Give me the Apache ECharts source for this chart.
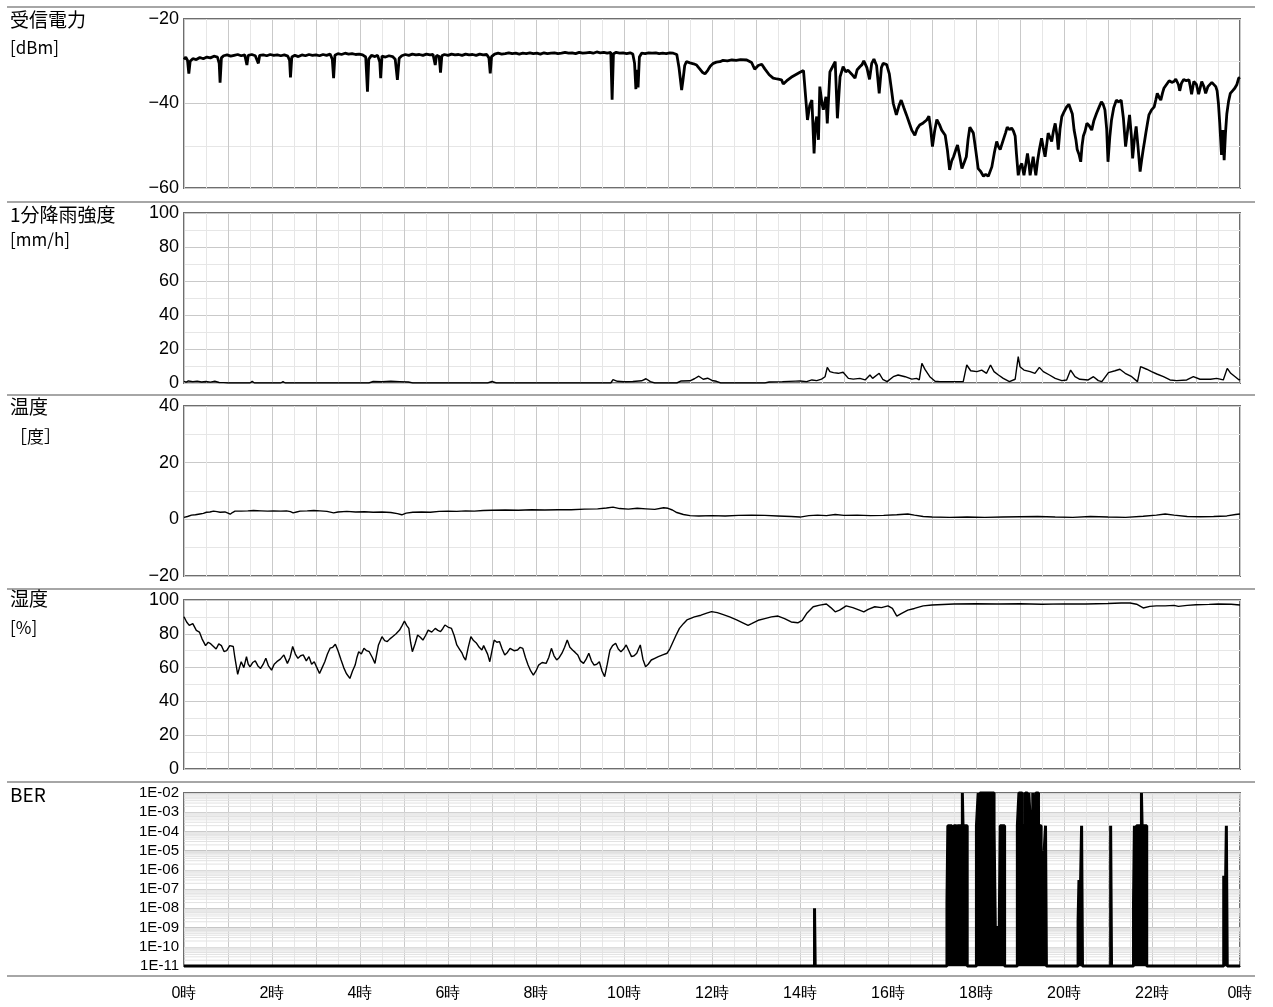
<!DOCTYPE html>
<html>
<head>
<meta charset="utf-8">
<script src="https://cdn.jsdelivr.net/npm/echarts@6/dist/echarts.min.js"></script>
<style>
  html, body { margin: 0; padding: 0; background: #fff; }
  #chart { width: 1273px; height: 1007px; }
</style>
</head>
<body>
<div id="chart"></div>
<script>
// ---- time axis (hours of the day) ----
const HOUR_MIN = 0;
const HOUR_MAX = 24;

// ---- 受信電力 [dBm] : [hour, value] ----
const powerData = [
  [0.00,-29.6],[0.04,-29.0],[0.08,-29.8],[0.11,-32.9],[0.14,-30.0],[0.20,-29.4],[0.28,-29.6],[0.36,-29.1],
  [0.44,-29.4],[0.52,-29.0],[0.60,-29.2],[0.68,-28.8],[0.76,-29.0],[0.80,-30.5],[0.82,-35.1],[0.85,-29.2],
  [0.90,-28.7],[0.98,-28.5],[1.06,-28.8],[1.14,-28.6],[1.22,-28.4],[1.30,-28.7],[1.38,-28.5],[1.43,-30.9],
  [1.46,-28.6],[1.54,-28.4],[1.62,-28.7],[1.69,-30.5],[1.72,-28.6],[1.80,-28.5],[1.88,-28.7],[1.96,-28.4],
  [2.04,-28.6],[2.12,-28.5],[2.20,-28.7],[2.28,-28.5],[2.36,-28.8],[2.40,-29.8],[2.42,-33.8],[2.45,-29.0],
  [2.52,-28.6],[2.60,-28.9],[2.68,-28.5],[2.76,-28.7],[2.84,-28.4],[2.92,-28.6],[3.00,-28.5],[3.08,-28.7],
  [3.16,-28.4],[3.24,-28.6],[3.32,-28.3],[3.37,-29.5],[3.40,-34.0],[3.43,-28.6],[3.50,-28.2],[3.58,-28.4],
  [3.66,-28.1],[3.74,-28.3],[3.82,-28.2],[3.90,-28.4],[3.98,-28.3],[4.06,-28.5],[4.13,-29.0],[4.17,-37.2],
  [4.20,-29.5],[4.26,-28.6],[4.34,-28.9],[4.40,-28.6],[4.45,-30.2],[4.47,-34.0],[4.50,-28.8],[4.58,-29.0],
  [4.66,-28.7],[4.74,-28.9],[4.80,-29.5],[4.85,-34.4],[4.89,-29.3],[4.95,-28.7],[5.03,-28.4],[5.11,-28.6],
  [5.19,-28.3],[5.27,-28.5],[5.35,-28.4],[5.43,-28.6],[5.51,-28.3],[5.59,-28.5],[5.66,-28.4],[5.71,-30.9],
  [5.74,-28.6],[5.80,-28.9],[5.83,-32.7],[5.86,-28.7],[5.92,-28.4],[6.00,-28.6],[6.08,-28.3],[6.16,-28.5],
  [6.24,-28.4],[6.32,-28.6],[6.40,-28.3],[6.48,-28.5],[6.56,-28.4],[6.64,-28.6],[6.72,-28.3],[6.80,-28.5],
  [6.88,-28.4],[6.93,-29.2],[6.96,-32.9],[6.99,-28.9],[7.06,-28.3],[7.14,-28.1],[7.22,-28.3],[7.30,-28.2],
  [7.38,-28.0],[7.46,-28.2],[7.54,-28.1],[7.62,-28.3],[7.70,-28.1],[7.78,-28.2],[7.86,-28.0],[7.94,-28.2],
  [8.02,-28.1],[8.10,-28.3],[8.18,-28.0],[8.26,-28.2],[8.34,-28.1],[8.42,-28.0],[8.50,-28.2],[8.58,-28.1],
  [8.66,-27.9],[8.74,-28.1],[8.82,-28.0],[8.90,-28.2],[8.98,-27.9],[9.06,-28.1],[9.14,-28.0],[9.22,-27.9],
  [9.30,-28.1],[9.38,-27.8],[9.46,-28.0],[9.54,-27.9],[9.62,-28.1],[9.70,-27.9],[9.73,-39.1],[9.76,-28.2],
  [9.82,-27.9],[9.90,-28.1],[9.98,-28.0],[10.06,-28.2],[10.14,-28.0],[10.20,-28.3],[10.24,-30.5],[10.27,-36.6],
  [10.29,-32.0],[10.32,-36.2],[10.35,-29.0],[10.40,-28.1],[10.48,-28.2],[10.56,-28.0],[10.64,-28.1],[10.72,-28.0],
  [10.80,-28.2],[10.88,-28.1],[10.96,-28.2],[11.04,-28.0],[11.12,-28.1],[11.20,-28.4],[11.25,-31.5],[11.31,-36.8],
  [11.34,-34.5],[11.38,-31.0],[11.42,-30.1],[11.50,-30.4],[11.58,-30.6],[11.65,-30.9],[11.72,-31.8],[11.78,-32.6],
  [11.84,-33.0],[11.90,-32.2],[11.96,-31.2],[12.03,-30.5],[12.10,-30.2],[12.18,-30.1],[12.25,-29.8],[12.35,-29.9],
  [12.45,-29.7],[12.55,-29.8],[12.65,-29.6],[12.79,-29.7],[12.90,-30.3],[12.97,-31.9],[13.05,-31.0],[13.13,-30.7],
  [13.20,-31.8],[13.30,-33.2],[13.39,-34.0],[13.48,-34.2],[13.58,-34.4],[13.62,-35.4],[13.70,-34.6],[13.80,-33.8],
  [13.90,-33.2],[14.00,-32.6],[14.08,-32.2],[14.17,-43.9],[14.22,-40.5],[14.27,-39.2],[14.32,-51.8],[14.35,-45.0],
  [14.38,-43.1],[14.42,-48.6],[14.45,-36.0],[14.50,-40.0],[14.53,-41.5],[14.59,-38.4],[14.62,-44.7],[14.68,-32.5],
  [14.74,-31.3],[14.80,-30.1],[14.85,-43.5],[14.91,-33.7],[14.98,-31.3],[15.04,-32.5],[15.09,-32.1],[15.17,-33.0],
  [15.25,-34.0],[15.30,-32.0],[15.36,-31.3],[15.41,-30.8],[15.45,-29.9],[15.52,-31.5],[15.58,-34.3],[15.63,-30.5],
  [15.68,-29.5],[15.74,-31.0],[15.80,-37.6],[15.85,-31.5],[15.89,-30.5],[15.97,-30.8],[16.03,-33.0],[16.08,-36.8],
  [16.12,-40.0],[16.19,-42.7],[16.25,-40.5],[16.30,-39.2],[16.36,-41.0],[16.42,-42.7],[16.48,-44.5],[16.54,-46.3],
  [16.61,-47.5],[16.66,-46.0],[16.72,-45.1],[16.80,-44.6],[16.88,-43.9],[16.93,-43.0],[16.97,-46.0],[17.01,-50.2],
  [17.06,-46.5],[17.11,-43.8],[17.17,-45.0],[17.22,-46.3],[17.30,-47.5],[17.35,-51.0],[17.40,-55.7],[17.45,-53.5],
  [17.49,-52.6],[17.54,-51.0],[17.58,-49.8],[17.63,-52.5],[17.68,-55.4],[17.73,-54.0],[17.78,-52.6],[17.82,-48.5],
  [17.86,-45.6],[17.90,-46.0],[17.94,-47.0],[18.00,-51.5],[18.05,-55.4],[18.10,-56.0],[18.17,-57.2],[18.22,-56.8],
  [18.28,-57.2],[18.36,-55.0],[18.42,-51.5],[18.47,-49.0],[18.51,-50.2],[18.55,-50.9],[18.62,-48.6],[18.67,-47.0],
  [18.71,-45.6],[18.76,-46.2],[18.81,-45.8],[18.85,-46.5],[18.89,-47.7],[18.92,-52.0],[18.96,-57.0],[19.00,-55.0],
  [19.04,-54.2],[19.09,-57.0],[19.13,-54.5],[19.17,-51.8],[19.20,-54.0],[19.23,-57.0],[19.27,-54.5],[19.30,-52.6],
  [19.33,-55.0],[19.36,-57.0],[19.40,-53.5],[19.44,-50.9],[19.49,-48.2],[19.53,-50.5],[19.57,-52.6],[19.61,-49.5],
  [19.64,-47.0],[19.68,-48.0],[19.72,-49.0],[19.76,-46.5],[19.80,-44.7],[19.84,-47.5],[19.87,-50.9],[19.91,-46.0],
  [19.95,-43.1],[20.00,-42.0],[20.06,-40.8],[20.11,-40.2],[20.15,-40.4],[20.19,-42.5],[20.23,-46.3],[20.27,-48.5],
  [20.30,-50.9],[20.34,-52.0],[20.38,-53.8],[20.41,-50.0],[20.44,-47.7],[20.48,-46.5],[20.52,-44.7],[20.57,-45.2],
  [20.63,-46.3],[20.68,-44.0],[20.74,-42.3],[20.80,-40.8],[20.85,-39.6],[20.89,-40.2],[20.93,-41.5],[20.97,-46.0],
  [21.00,-53.8],[21.04,-48.0],[21.08,-43.9],[21.13,-41.0],[21.19,-39.2],[21.24,-39.6],[21.30,-39.2],[21.35,-43.5],
  [21.40,-50.2],[21.45,-46.0],[21.49,-42.7],[21.53,-47.5],[21.56,-53.0],[21.60,-48.5],[21.64,-45.4],[21.68,-50.0],
  [21.73,-56.1],[21.77,-53.0],[21.80,-50.9],[21.83,-49.0],[21.86,-47.0],[21.90,-44.5],[21.93,-42.7],[21.99,-41.5],
  [22.05,-40.8],[22.09,-39.0],[22.12,-37.6],[22.16,-38.5],[22.20,-39.2],[22.24,-37.5],[22.27,-36.4],[22.33,-35.5],
  [22.39,-34.6],[22.45,-35.0],[22.50,-34.8],[22.54,-34.2],[22.57,-34.3],[22.60,-35.5],[22.63,-37.0],[22.67,-35.2],
  [22.72,-34.3],[22.78,-34.6],[22.84,-34.4],[22.87,-36.0],[22.90,-37.8],[22.95,-34.8],[23.01,-35.5],[23.06,-37.8],
  [23.13,-34.8],[23.18,-36.0],[23.22,-37.6],[23.27,-36.0],[23.31,-35.6],[23.36,-35.0],[23.40,-35.2],[23.45,-36.0],
  [23.48,-37.0],[23.51,-40.0],[23.54,-44.7],[23.58,-52.2],[23.61,-46.3],[23.64,-53.4],[23.67,-47.0],[23.70,-42.5],
  [23.74,-39.5],[23.78,-37.6],[23.83,-37.0],[23.88,-36.4],[23.93,-35.5],[23.97,-34.0],[24.00,-33.8]
];

// ---- 1分降雨強度 [mm/h] ----
const rainData = [
  [0.00,1.0],[0.05,0.5],[0.10,1.2],[0.20,0.8],[0.30,1.1],[0.40,0.6],[0.50,0.9],[0.60,0.5],[0.70,1.0],
  [0.80,0.3],[0.90,0.2],[1.00,0],[1.50,0],[1.55,1.0],[1.60,0],[2.20,0],[2.25,0.8],[2.30,0],[4.20,0],
  [4.30,0.9],[4.50,0.7],[4.70,1.0],[4.90,0.8],[5.10,0.6],[5.20,0],[6.90,0],[7.00,0.9],[7.10,0],[9.70,0],
  [9.75,2.0],[9.85,1.0],[10.00,0.7],[10.20,0.9],[10.40,1.3],[10.50,2.5],[10.60,0.8],[10.70,0],[11.20,0],
  [11.30,1.2],[11.50,1.3],[11.60,2.5],[11.70,4.0],[11.80,2.2],[11.90,2.8],[12.00,1.5],[12.10,1.0],[12.20,0],
  [13.20,0],[13.30,0.6],[13.60,0.8],[13.90,1.1],[14.00,1.2],[14.15,0.8],[14.27,1.8],[14.38,1.4],[14.49,2.3],
  [14.57,3.7],[14.62,9.2],[14.68,6.7],[14.76,6.1],[14.87,5.7],[14.98,6.3],[15.10,2.7],[15.21,2.3],[15.36,2.7],
  [15.48,1.8],[15.59,4.7],[15.65,2.7],[15.80,5.7],[15.88,2.2],[15.98,0.8],[16.12,3.7],[16.23,4.7],[16.39,3.7],
  [16.54,2.3],[16.65,2.7],[16.71,1.8],[16.77,11.6],[16.84,8.0],[16.95,3.7],[17.07,1.0],[17.18,0.8],[17.71,0.8],
  [17.79,10.6],[17.88,7.2],[18.02,6.7],[18.13,7.6],[18.24,5.7],[18.33,10.6],[18.41,6.7],[18.51,4.7],[18.62,2.7],
  [18.76,0.8],[18.89,2.2],[18.96,15.5],[19.00,9.6],[19.09,7.6],[19.23,6.7],[19.34,5.7],[19.44,9.2],[19.53,6.7],
  [19.67,4.7],[19.80,2.7],[19.95,1.4],[20.06,1.8],[20.15,7.6],[20.25,3.7],[20.36,2.2],[20.55,1.8],[20.67,3.7],
  [20.78,1.4],[20.86,0.8],[21.01,6.1],[21.16,7.2],[21.27,8.1],[21.39,5.7],[21.54,3.7],[21.67,0.8],[21.74,9.6],
  [21.88,8.1],[21.99,6.7],[22.11,5.3],[22.26,3.7],[22.41,1.8],[22.56,1.4],[22.79,1.8],[22.94,3.7],[23.09,2.2],
  [23.33,2.2],[23.47,2.7],[23.62,1.8],[23.71,8.6],[23.79,5.7],[23.89,3.7],[23.98,1.8],[24.00,2.2]
];

// ---- 温度 [度] ----
const tempData = [
  [0.00,0.7],[0.08,1.0],[0.17,1.5],[0.26,1.6],[0.36,1.9],[0.44,2.1],[0.51,2.5],[0.59,2.6],[0.67,2.9],
  [0.75,2.7],[0.82,2.5],[0.93,2.6],[1.00,2.2],[1.05,1.8],[1.10,2.4],[1.16,2.9],[1.30,2.9],[1.45,3.0],
  [1.58,3.1],[1.75,3.0],[1.90,2.9],[2.03,3.0],[2.20,2.9],[2.33,3.0],[2.42,2.7],[2.48,2.3],[2.56,2.6],
  [2.64,2.9],[2.80,3.0],[2.95,3.1],[3.09,3.0],[3.25,2.8],[3.40,2.3],[3.50,2.6],[3.70,2.8],[3.90,2.6],
  [4.10,2.7],[4.30,2.5],[4.50,2.6],[4.70,2.4],[4.85,2.0],[4.95,1.6],[5.05,2.2],[5.20,2.5],[5.40,2.6],
  [5.60,2.5],[5.80,2.8],[6.00,2.9],[6.20,2.8],[6.40,3.0],[6.60,2.9],[6.80,3.1],[7.00,3.2],[7.30,3.3],
  [7.60,3.2],[7.90,3.4],[8.20,3.3],[8.50,3.4],[8.80,3.4],[9.10,3.6],[9.40,3.7],[9.60,4.0],[9.75,4.3],
  [9.90,3.8],[10.10,3.6],[10.30,3.9],[10.50,3.7],[10.70,3.5],[10.90,4.1],[11.00,3.9],[11.10,3.3],[11.20,2.4],
  [11.35,1.7],[11.50,1.3],[11.70,1.2],[12.00,1.3],[12.30,1.2],[12.60,1.4],[12.90,1.5],[13.20,1.4],[13.50,1.2],
  [13.80,1.0],[14.00,0.8],[14.20,1.3],[14.40,1.5],[14.60,1.3],[14.80,1.7],[15.00,1.4],[15.30,1.5],[15.60,1.3],
  [15.90,1.4],[16.20,1.6],[16.45,1.9],[16.60,1.5],[16.80,1.0],[17.00,0.8],[17.40,0.7],[17.80,0.8],[18.20,0.7],
  [18.60,0.8],[19.00,0.9],[19.40,1.0],[19.80,0.8],[20.20,0.7],[20.60,1.0],[21.00,0.8],[21.40,0.7],[21.80,1.1],
  [22.10,1.5],[22.30,1.9],[22.50,1.5],[22.80,1.0],[23.10,0.9],[23.40,1.0],[23.70,1.2],[23.90,1.7],[24.00,1.9]
];

// ---- 湿度 [%] ----
const humidData = [
  [0.00,90.1],[0.06,87],[0.12,85],[0.20,86],[0.28,82],[0.35,81],[0.41,77],[0.49,73],[0.55,75],[0.61,74],
  [0.67,72.5],[0.73,71],[0.79,74],[0.85,73],[0.91,69.5],[0.97,70],[1.04,73],[1.12,72.5],[1.15,67],[1.18,68],
  [1.22,56],[1.26,60],[1.30,63.5],[1.36,60],[1.42,66.5],[1.46,62],[1.50,60.5],[1.56,63],[1.62,64],[1.68,61],
  [1.74,59.5],[1.80,62],[1.86,65.5],[1.92,61],[1.99,58.5],[2.05,62],[2.11,63.5],[2.19,65],[2.27,67.5],[2.35,62.5],
  [2.41,66],[2.47,72.5],[2.53,68],[2.59,65.5],[2.65,67],[2.71,67.5],[2.78,64],[2.84,66.5],[2.90,62],[2.96,63.5],
  [3.02,60],[3.08,56.5],[3.14,60],[3.20,63.5],[3.26,68],[3.32,71.5],[3.38,72],[3.44,73.8],[3.50,70],[3.57,64.5],
  [3.63,60],[3.69,56.5],[3.77,53.6],[3.83,58],[3.89,61.5],[3.93,66],[3.97,69.4],[4.03,68],[4.09,71.4],[4.15,70],
  [4.21,69.4],[4.28,66],[4.34,62.5],[4.42,73.4],[4.50,78.3],[4.56,76],[4.62,75.4],[4.68,77],[4.74,78.3],[4.82,80],
  [4.90,82.2],[4.96,85],[5.01,87.6],[5.06,85],[5.11,83.2],[5.15,75],[5.19,69.4],[5.25,74],[5.31,79.3],[5.37,78],
  [5.43,76.3],[5.49,79],[5.55,82.2],[5.63,81],[5.71,83.2],[5.77,82],[5.83,81.3],[5.88,83],[5.93,85.2],[6.00,84],
  [6.08,83.2],[6.14,79],[6.20,73.4],[6.26,71],[6.32,68.5],[6.36,66],[6.40,64.5],[6.46,72],[6.52,78.3],[6.58,76],
  [6.65,74.4],[6.71,72],[6.77,70.4],[6.81,73],[6.85,72.4],[6.90,68],[6.95,63.5],[7.00,70],[7.05,76.3],[7.11,75],
  [7.17,75.4],[7.23,71],[7.29,67.5],[7.35,69],[7.41,71.4],[7.50,70],[7.58,70.4],[7.64,72],[7.70,71.4],[7.76,66],
  [7.82,61.5],[7.88,58],[7.94,55.6],[8.00,58],[8.06,61.5],[8.14,63],[8.23,62.5],[8.29,66],[8.35,71.4],[8.41,67],
  [8.47,64.5],[8.53,66],[8.59,68.5],[8.65,72],[8.71,76.3],[8.77,72],[8.83,70.4],[8.89,69],[8.95,67.5],[9.01,64],
  [9.08,62.5],[9.14,65],[9.20,68.5],[9.26,64],[9.32,61.5],[9.38,62],[9.44,63.5],[9.50,58],[9.56,54.6],[9.62,62],
  [9.68,70.4],[9.74,73],[9.81,74.4],[9.87,71],[9.93,69.4],[9.99,71],[10.05,73.4],[10.11,70],[10.17,66.5],[10.23,67],
  [10.29,68.5],[10.33,71],[10.37,73.4],[10.43,65],[10.49,60.5],[10.55,62],[10.62,64.5],[10.70,65.5],[10.78,66.5],
  [10.88,67.5],[10.98,68.5],[11.04,71],[11.10,74.4],[11.18,79],[11.26,83.2],[11.35,86],[11.43,88.2],[11.60,90],
  [11.75,91],[11.88,92.2],[11.99,93.1],[12.12,92.5],[12.24,91.5],[12.40,90],[12.56,88.2],[12.70,86.5],[12.82,85],
  [12.90,86],[13.05,88],[13.20,89],[13.35,90],[13.50,90.5],[13.65,89],[13.80,87],[13.95,86.5],[14.05,88],[14.15,92],
  [14.30,96],[14.45,97],[14.60,97.6],[14.70,95.5],[14.80,93],[14.90,94],[15.05,96.5],[15.20,95.5],[15.35,94],
  [15.45,93],[15.55,94.5],[15.70,96],[15.85,95.5],[16.00,96.5],[16.10,95],[16.20,90.5],[16.30,92],[16.45,94],
  [16.60,95],[16.80,96.5],[17.00,97],[17.50,97.6],[18.00,97.8],[18.50,97.6],[19.00,97.8],[19.50,97.5],[20.00,97.7],
  [20.50,97.6],[21.00,97.9],[21.30,98.2],[21.50,98.2],[21.65,97.5],[21.80,95.3],[21.95,96.2],[22.10,96.5],
  [22.30,96.5],[22.50,96.8],[22.60,96.2],[22.80,96.8],[23.00,97.2],[23.30,97.4],[23.50,97.6],[23.80,97.5],[24.00,97]
];

// ---- BER (floor value 1E-11 when error free) ----
const BER_FLOOR = 1e-11;
const BER_TOP = 1e-2;
const berData = [
  [0,1e-11],
  [14.33,1e-11],[14.33,1e-8],[14.345,1e-8],[14.345,1e-11],
  [17.34,1e-11],[17.34,2e-8],[17.36,2e-8],[17.36,2e-4],[17.45,2e-4],[17.46,1e-4],[17.50,2e-4],[17.555,2e-4],[17.555,1e-11],
  [17.58,1e-11],[17.58,2e-4],[17.69,2e-4],[17.69,1e-2],[17.705,1e-2],[17.705,2e-4],[17.80,2e-4],[17.80,1e-11],
  [18.01,1e-11],[18.01,2e-4],[18.05,2e-4],[18.05,1e-2],[18.06,1e-2],[18.06,2e-4],[18.09,2e-4],[18.09,1e-2],
  [18.41,1e-2],[18.41,2e-4],[18.45,2e-4],[18.45,1e-11],
  [18.47,1e-11],[18.47,1e-9],[18.52,1e-9],[18.52,1e-11],
  [18.55,1e-11],[18.55,2e-4],[18.65,2e-4],[18.65,1e-11],
  [18.94,1e-11],[18.94,2e-4],[18.975,2e-4],[18.975,1e-2],[19.05,1e-2],[19.05,2e-4],[19.12,2e-4],[19.12,1e-2],
  [19.17,1e-2],[19.17,2e-4],[19.20,2e-4],[19.20,1e-2],[19.24,1e-2],[19.24,2e-4],[19.29,2e-4],[19.29,1e-2],
  [19.31,1e-2],[19.31,2e-4],[19.36,2e-4],[19.36,1e-2],[19.42,1e-2],[19.42,2e-4],[19.48,2e-4],[19.48,1e-11],
  [19.51,1e-11],[19.51,3e-6],[19.55,3e-6],[19.55,1e-5],[19.58,1e-5],[19.58,2e-4],[19.60,2e-4],[19.60,1e-11],
  [20.32,1e-11],[20.32,2e-9],[20.34,2e-9],[20.34,3e-7],[20.36,3e-7],[20.36,2e-9],[20.40,2e-9],[20.40,2e-4],[20.42,2e-4],[20.42,1e-11],
  [21.06,1e-11],[21.06,2e-4],[21.08,2e-4],[21.08,1e-11],
  [21.58,1e-11],[21.58,2e-8],[21.60,2e-8],[21.60,2e-4],[21.62,2e-4],[21.62,2e-7],[21.65,2e-7],[21.65,2e-4],
  [21.76,2e-4],[21.76,1e-2],[21.775,1e-2],[21.775,2e-4],[21.88,2e-4],[21.88,1e-11],
  [23.63,1e-11],[23.63,5e-7],[23.645,5e-7],[23.645,1e-11],[23.69,1e-11],[23.69,2e-4],[23.71,2e-4],[23.71,1e-11],
  [24,1e-11]
];

// ---- panel titles ----
const panelTitles = [
  ['受信電力', '[dBm]'],
  ['1分降雨強度', '[mm/h]'],
  ['温度', '［度］'],
  ['湿度', '[%]'],
  ['BER', '']
];

// ---- layout ----
const PLOT_LEFT = 184, PLOT_RIGHT = 33;
const panels = [
  { top: 19,  height: 169 },
  { top: 213, height: 170 },
  { top: 406, height: 170 },
  { top: 600, height: 169 },
  { top: 793, height: 173 }
];
const separators = [7, 202, 395, 589, 782, 976];
const titleTops = [[10, 39], [205, 231], [397, 428], [589, 619], [785, 0]];

const MAJOR = '#c9c9c9', MINOR = '#e6e6e6';
const LABEL_FONT = '"Liberation Sans", Arial, sans-serif';
const CJK_FONT = '"Noto Sans CJK JP", "Noto Sans", sans-serif';

const grids = panels.map(p => ({
  left: PLOT_LEFT, right: PLOT_RIGHT, top: p.top, height: p.height,
  show: true, borderColor: '#6e6e6e', borderWidth: 2, backgroundColor: '#fff'
}));

const xAxes = panels.map((p, i) => ({
  type: 'value', gridIndex: i, min: HOUR_MIN, max: HOUR_MAX, interval: 1,
  axisLine: { show: false }, axisTick: { show: false },
  axisLabel: {
    show: i === panels.length - 1, margin: 20, color: '#000', fontSize: 16,
    fontFamily: LABEL_FONT, showMinLabel: true, showMaxLabel: true,
    formatter: v => (v % 2 === 0 ? (v % 24) + '時' : '')
  },
  splitLine: { show: true, lineStyle: { color: MAJOR, width: 1 } },
  minorTick: { show: false, splitNumber: 2 },
  minorSplitLine: { show: true, lineStyle: { color: MINOR, width: 1 } }
}));

function linearY(i, min, max) {
  return {
    type: 'value', gridIndex: i, min, max, interval: 20,
    axisLine: { show: false }, axisTick: { show: false },
    axisLabel: {
      color: '#000', fontSize: 18, fontFamily: LABEL_FONT, margin: 5,
      formatter: v => (v < 0 ? '\u2212' + Math.abs(v) : String(v))
    },
    splitLine: { show: true, lineStyle: { color: MAJOR, width: 1 } },
    minorTick: { show: false, splitNumber: 2 },
    minorSplitLine: { show: true, lineStyle: { color: MINOR, width: 1 } }
  };
}

const yAxes = [
  linearY(0, -60, -20),
  linearY(1, 0, 100),
  linearY(2, -20, 40),
  linearY(3, 0, 100),
  {
    type: 'log', gridIndex: 4, logBase: 10, min: BER_FLOOR, max: BER_TOP, splitNumber: 9,
    axisLine: { show: false }, axisTick: { show: false },
    axisLabel: {
      color: '#000', fontSize: 15, fontFamily: LABEL_FONT, margin: 5,
      formatter: v => '1E-' + String(Math.round(-Math.log10(v))).padStart(2, '0')
    },
    splitLine: { show: true, lineStyle: { color: '#c4c4c4', width: 1 } }
  }
];

// log-decade minor grid lines (2..9 × 10^n), drawn as one broken line series
const berMinorGrid = [];
for (let e = -11; e < -2; e++) {
  for (let k = 2; k <= 9; k++) {
    const v = k * Math.pow(10, e);
    berMinorGrid.push([HOUR_MIN, v], [HOUR_MAX, v], [HOUR_MAX, '-']);
  }
}

function lineSeries(i, data, width) {
  return {
    type: 'line', xAxisIndex: i, yAxisIndex: i, data,
    showSymbol: false, symbol: 'none', z: 3,
    lineStyle: { color: '#000', width },
    animation: false
  };
}

const series = [
  lineSeries(0, powerData, 2.8),
  lineSeries(1, rainData, 1.4),
  lineSeries(2, tempData, 1.4),
  lineSeries(3, humidData, 1.4),
  {
    type: 'line', xAxisIndex: 4, yAxisIndex: 4, data: berMinorGrid,
    showSymbol: false, symbol: 'none', z: 1, silent: true, animation: false,
    connectNulls: false,
    lineStyle: { color: '#e2e2e2', width: 1 }
  },
  {
    type: 'line', xAxisIndex: 4, yAxisIndex: 4, data: berData,
    showSymbol: false, symbol: 'none', z: 3, clip: false, animation: false,
    lineStyle: { color: '#000', width: 3 },
    areaStyle: { color: '#000', opacity: 1, origin: 'start' }
  }
];

const graphics = [];
separators.forEach(y => {
  graphics.push({
    type: 'line', shape: { x1: 7, y1: y, x2: 1255, y2: y },
    style: { stroke: '#a6a6a6', lineWidth: 2 }, silent: true
  });
});
panelTitles.forEach((t, i) => {
  graphics.push({
    type: 'text', left: 10, top: titleTops[i][0],
    style: { text: t[0], font: '19px ' + CJK_FONT, fill: '#000' }
  });
  if (t[1]) {
    graphics.push({
      type: 'text', left: 10, top: titleTops[i][1],
      style: { text: t[1], font: '17px ' + CJK_FONT, fill: '#000' }
    });
  }
});

const chart = echarts.init(document.getElementById('chart'), null, { renderer: 'canvas' });
chart.setOption({
  animation: false,
  backgroundColor: '#fff',
  grid: grids,
  xAxis: xAxes,
  yAxis: yAxes,
  series,
  graphic: graphics
});
</script>
</body>
</html>
